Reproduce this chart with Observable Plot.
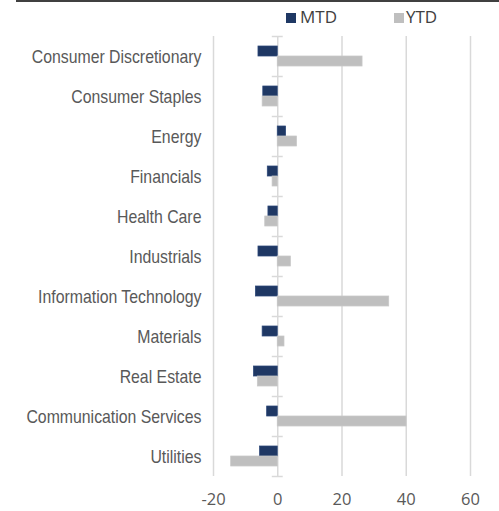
<!DOCTYPE html>
<html><head><meta charset="utf-8">
<script src="https://cdn.jsdelivr.net/npm/d3@7"></script>
<script src="https://cdn.jsdelivr.net/npm/@observablehq/plot@0.6"></script>
<style>
body{margin:0;background:#fff;overflow:hidden}
#wrap{position:relative;width:499px;height:511px;background:#fff}
#topline{position:absolute;left:16px;top:0;width:483px;height:2px;background:#404040}
.leg{position:absolute;top:7px;font-family:"Open Sans";font-size:17px;color:#404040;line-height:20px;white-space:nowrap}
.sw{position:absolute;top:12.7px;width:10px;height:10px}
#chart{position:absolute;left:0;top:30px}
</style></head><body>
<div id="wrap">
  <div id="topline"></div>
  <div class="sw" style="left:286px;background:#1F3864"></div>
  <div class="leg" style="left:300px">MTD</div>
  <div class="sw" style="left:394px;background:#BFBFBF"></div>
  <div class="leg" style="left:406px">YTD</div>
  <div id="chart"></div>
</div>
<script>
const categories = ["Consumer Discretionary","Consumer Staples","Energy","Financials","Health Care","Industrials","Information Technology","Materials","Real Estate","Communication Services","Utilities"];
const mtd = [-6.0, -4.5, 2.6, -3.1, -2.9, -6.0, -6.8, -4.7, -7.4, -3.3, -5.5];
const ytd = [26.4, -4.7, 6.0, -1.6, -3.9, 4.1, 34.7, 2.1, -6.2, 40.1, -14.5];
const xTicks = [-20, 0, 20, 40, 60];
const xTickLabels = ["-20", "0", "20", "40", "60"];

const rows = categories.map((c, i) => ({category: c, mtd: mtd[i], ytd: ytd[i]}));
const last = categories[categories.length - 1];

const chart = Plot.plot({
  width: 499, height: 481,
  marginTop: 6, marginBottom: 35, marginLeft: 213, marginRight: 29,
  x: {domain: [-20, 60], label: null},
  y: {domain: categories, padding: 0, label: null},
  style: {fontFamily: "Open Sans", fontSize: "16px", color: "#595959", background: "white"},
  marks: [
    Plot.ruleX(xTicks, {stroke: "#D9D9D9", strokeWidth: 1.5}),
    Plot.ruleY(categories, {y: d => d, x1: -1.7, x2: 1.7, dy: -20, stroke: "#D9D9D9", strokeWidth: 1.5}),
    Plot.ruleY([last], {y: d => d, x1: -1.7, x2: 1.7, dy: 20, stroke: "#D9D9D9", strokeWidth: 1.5}),
    Plot.barX(rows, {y: "category", x: "mtd", fill: "#1F3864", stroke: "#2B4778", strokeWidth: 0.75, insetTop: 10, insetBottom: 20}),
    Plot.barX(rows, {y: "category", x: "ytd", fill: "#BFBFBF", stroke: "#C8C8C8", strokeWidth: 0.75, insetTop: 20, insetBottom: 10}),
    Plot.axisX(xTicks, {tickSize: 0, tickPadding: 17, tickFormat: (d, i) => xTickLabels[i], fontFamily: "Open Sans", fontSize: 16.5, fill: "#595959", label: null}),
    Plot.axisY({tickSize: 0, tickPadding: 12, fontFamily: "Liberation Sans", fontSize: 18, fill: "#595959", label: null, dy: 1})
  ]
});
// condense the category labels horizontally around their right-aligned anchor
const yLabels = chart.querySelector('g[aria-label="y-axis tick label"]');
if (yLabels) {
  const ax = 213 - 12;
  const wrapG = document.createElementNS("http://www.w3.org/2000/svg", "g");
  wrapG.setAttribute("transform", `translate(${ax},0) scale(0.88,1) translate(${-ax},0)`);
  yLabels.parentNode.insertBefore(wrapG, yLabels);
  wrapG.appendChild(yLabels);
}
document.getElementById("chart").appendChild(chart);
</script>
</body></html>
